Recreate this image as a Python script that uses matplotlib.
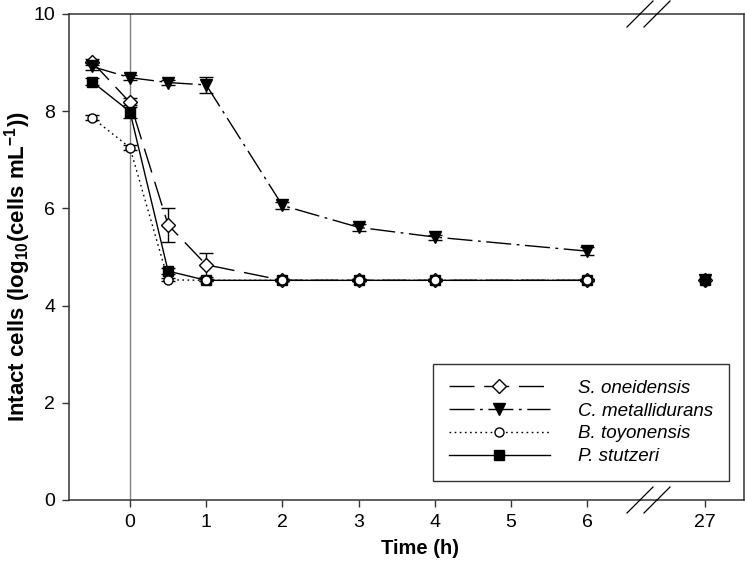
import matplotlib
matplotlib.use("Agg")
import matplotlib.pyplot as plt
from matplotlib.lines import Line2D

plt.rcParams['font.family'] = ['Liberation Sans', 'DejaVu Sans']
plt.rcParams['mathtext.fontset'] = 'custom'
plt.rcParams['mathtext.rm'] = 'Liberation Sans'
plt.rcParams['mathtext.bf'] = 'Liberation Sans:bold'
plt.rcParams['mathtext.it'] = 'Liberation Sans:italic'

# ---- data ----
time_early = [-0.5, 0, 0.5, 1, 2, 3, 4, 6]
time_late = [27]
early_ticks = [0, 1, 2, 3, 4, 5, 6]
late_ticks = [27]
y_ticks = [0, 2, 4, 6, 8, 10]

species = ["S. oneidensis", "C. metallidurans", "B. toyonensis", "P. stutzeri"]

s_one = [9.02, 8.18, 5.66, 4.84, 4.52, 4.52, 4.52, 4.52]
s_one_err = [0.06, 0.10, 0.35, 0.25, 0.02, 0.02, 0.02, 0.02]
c_met = [8.92, 8.69, 8.59, 8.54, 6.06, 5.61, 5.41, 5.12]
c_met_err = [0.07, 0.05, 0.05, 0.16, 0.08, 0.07, 0.05, 0.08]
b_toy = [7.87, 7.25, 4.53, 4.52, 4.52, 4.52, 4.52, 4.52]
b_toy_err = [0.05, 0.05, 0.03, 0.02, 0.02, 0.02, 0.02, 0.02]
p_stu = [8.61, 7.99, 4.71, 4.52, 4.52, 4.52, 4.52, 4.52]
p_stu_err = [0.07, 0.14, 0.07, 0.02, 0.02, 0.02, 0.02, 0.02]

s_one_late = [4.52]
c_met_late = [4.52]
b_toy_late = [4.52]
p_stu_late = [4.52]

# ---- styles ----
styles = {
    "S. oneidensis": dict(marker='D', ms=6.8, mfc='white', mec='black', color='black',
                          dashes=(18, 7)),
    "C. metallidurans": dict(marker='v', ms=8, mfc='black', mec='black', color='black',
                             dashes=(18, 4, 2, 4)),
    "B. toyonensis": dict(marker='o', ms=6.5, mfc='white', mec='black', color='black',
                          dashes=(1.2, 2.5)),
    "P. stutzeri": dict(marker='s', ms=6.5, mfc='black', mec='black', color='black',
                        linestyle='-'),
}
zorders = {"S. oneidensis": 4, "C. metallidurans": 5, "P. stutzeri": 6, "B. toyonensis": 7}
series = {
    "S. oneidensis": (s_one, s_one_err, s_one_late),
    "C. metallidurans": (c_met, c_met_err, c_met_late),
    "B. toyonensis": (b_toy, b_toy_err, b_toy_late),
    "P. stutzeri": (p_stu, p_stu_err, p_stu_late),
}

W, H = 745, 570
fig = plt.figure(figsize=(W / 100, H / 100), dpi=100)

x0, x1 = 69 / W, 640 / W
x2, x3 = 657 / W, 744 / W
yb, yt = (H - 500) / H, (H - 14) / H
ax = fig.add_axes([x0, yb, x1 - x0, yt - yb])
ax2 = fig.add_axes([x2, yb, x3 - x2, yt - yb], sharey=ax)

spine_c = '#333333'
for a in (ax, ax2):
    for s in a.spines.values():
        s.set_linewidth(1.1)
        s.set_color(spine_c)
ax.spines['right'].set_visible(False)
ax2.spines['left'].set_visible(False)

ax.axvline(0, color='#808080', lw=1.0, zorder=1)

handles = []
for name in species:
    vals, err, late = series[name]
    st = dict(styles[name])
    z = zorders[name]
    ax.errorbar(time_early, vals, yerr=err, fmt='none', ecolor='black', elinewidth=1.0,
                capsize=5, capthick=1.0, zorder=3)
    ln, = ax.plot(time_early, vals, lw=1.0, mew=1.0, zorder=z, **st)
    handles.append(ln)

late_order = ["B. toyonensis", "S. oneidensis", "P. stutzeri", "C. metallidurans"]
for name in late_order:
    vals, err, late = series[name]
    st = dict(styles[name])
    st.pop('dashes', None)
    st.pop('linestyle', None)
    ax2.plot(time_late, late, linestyle='none', mew=1.0, zorder=4, **st)

ax.set_xlim(-0.80, 6.69)
ax2.set_xlim(26.37, 27.51)
ax.set_ylim(0, 10)

ax.set_xticks(early_ticks)
ax2.set_xticks(late_ticks)
ax.set_yticks(y_ticks)
ax.tick_params(axis='both', direction='out', length=5, width=1.0, labelsize=14,
               color=spine_c, pad=5, top=False, right=False)
ax2.tick_params(axis='x', direction='out', length=5, width=1.0, labelsize=14,
                color=spine_c, pad=5, top=False)
ax2.tick_params(axis='y', left=False, right=False, labelleft=False)

ax.set_xlabel('Time (h)', fontsize=14.5, fontweight='bold')
ax.xaxis.set_label_coords((420 - 69) / (640 - 69), -(539 - 500) / 486)
ax.set_ylabel(r'Intact cells (log$_\mathbf{10}$(cells mL$^\mathbf{-1}$))',
              fontsize=16, fontweight='bold')
ax.yaxis.set_label_coords(-(69 - 33) / (640 - 69), 0.48)

# connect spines across the gap and draw break marks
for yy in (yb, yt):
    fig.add_artist(Line2D([x1, x2], [yy, yy], transform=fig.transFigure,
                          color=spine_c, lw=1.1))
dx, dy = 13 / W, 13 / H
for xx in (x1, x2):
    for yy in (yb, yt):
        fig.add_artist(Line2D([xx - dx, xx + dx], [yy - dy, yy + dy],
                              transform=fig.transFigure, color='black', lw=0.9))

leg = fig.legend(handles, species, loc='lower right',
                 bbox_to_anchor=(729 / W, (H - 481) / H),
                 prop=dict(family='Liberation Sans', style='italic', size=13.5),
                 handlelength=5.4, handletextpad=1.5, labelspacing=0.3,
                 borderpad=0.85, borderaxespad=0, frameon=True, fancybox=False,
                 edgecolor='black', numpoints=1)
leg.get_frame().set_linewidth(1.0)
leg.set_zorder(10)

fig.savefig('out.png', dpi=100)
